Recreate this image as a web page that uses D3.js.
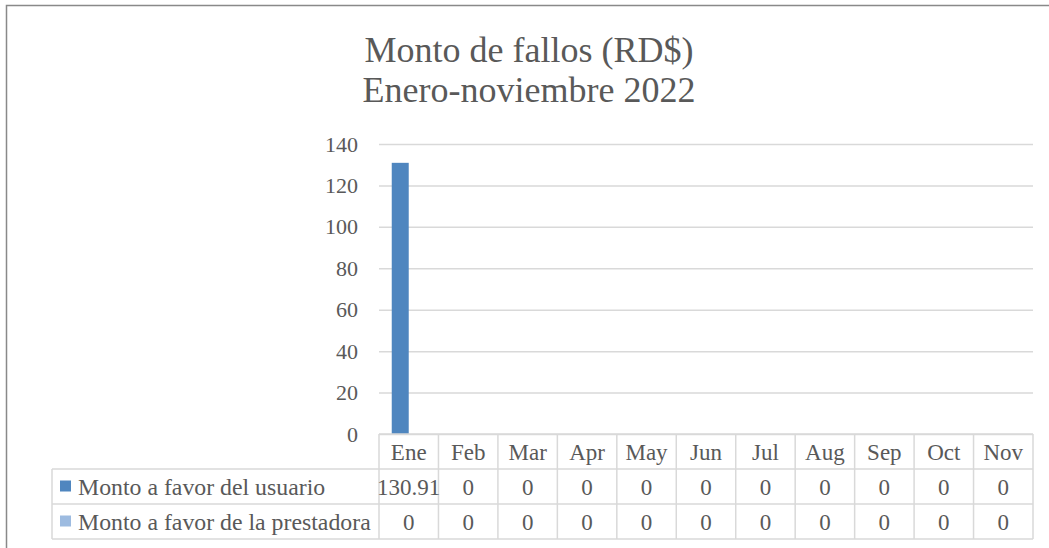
<!DOCTYPE html>
<html>
<head>
<meta charset="utf-8">
<script src="https://cdn.jsdelivr.net/npm/d3@7"></script>
<style>
  html, body { margin: 0; padding: 0; background: #fff; }
</style>
</head>
<body>
<svg id="chart"></svg>
<script>
// data
var months = ["Ene", "Feb", "Mar", "Apr", "May", "Jun", "Jul", "Aug", "Sep", "Oct", "Nov"];
var seriesNames = ["Monto a favor del usuario", "Monto a favor de la prestadora"];
var usuario = [130.91, 0, 0, 0, 0, 0, 0, 0, 0, 0, 0];
var prestadora = [0, 0, 0, 0, 0, 0, 0, 0, 0, 0, 0];
var usuarioLabels = ["130.91", "0", "0", "0", "0", "0", "0", "0", "0", "0", "0"];
var prestadoraLabels = ["0", "0", "0", "0", "0", "0", "0", "0", "0", "0", "0"];
var yTicks = [0, 20, 40, 60, 80, 100, 120, 140];
var titleLines = ["Monto de fallos (RD$)", "Enero-noviembre 2022"];

(function (d3) {

    /***** Configuration *****/
    var width = 1049, height = 548;
    var plot = { left: 379, right: 1033, top: 144, bottom: 434 };
    var rowH = 35;
    var legendLeft = 52;
    var colors = ["#4f86bf", "#9dbbe0"];
    var lineColor = "#d9d9d9";
    var font = "Liberation Serif";
    var textColor = "#595959";

    var svg = d3.select("#chart").attr("width", width).attr("height", height);

    // outer frame
    svg.append("rect")
       .attr("x", 6.5).attr("y", 5.5)
       .attr("width", width + 10).attr("height", height + 10)
       .attr("fill", "none").attr("stroke", "#898989").attr("stroke-width", 1.5);

    /***** Title *****/
    svg.append("g").selectAll("text")
       .data(titleLines)
       .join("text")
       .attr("x", 529)
       .attr("y", function (d, i) { return 62 + i * 40; })
       .attr("text-anchor", "middle")
       .attr("font-family", font)
       .attr("font-size", 36)
       .attr("fill", textColor)
       .text(function (d) { return d; });

    /***** Scales *****/
    var x = d3.scaleBand().domain(months).range([plot.left, plot.right]);
    var xs = d3.scaleBand().domain(seriesNames).range([0, x.bandwidth()]).paddingInner(0).paddingOuter(0.75);
    var y = d3.scaleLinear().domain([0, 140]).range([plot.bottom, plot.top]);

    /***** Grid + y axis *****/
    var yAxis = d3.axisLeft(y).tickValues(yTicks).tickSize(-(plot.right - plot.left)).tickPadding(21);
    var gy = svg.append("g")
                .attr("transform", "translate(" + plot.left + ",0)")
                .call(yAxis)
                .attr("font-family", font)
                .attr("font-size", 22);
    gy.select(".domain").remove();
    gy.selectAll(".tick line").attr("stroke", lineColor).attr("stroke-width", 1.5);
    gy.selectAll(".tick text").attr("fill", textColor);

    /***** Bars *****/
    var series = [usuario, prestadora];
    var gBars = svg.append("g");
    series.forEach(function (vals, si) {
        gBars.selectAll(".bar" + si)
             .data(vals)
             .join("rect")
             .attr("class", "bar" + si)
             .attr("x", function (d, i) { return x(months[i]) + xs(seriesNames[si]); })
             .attr("width", xs.bandwidth())
             .attr("y", function (d) { return y(d); })
             .attr("height", function (d) { return y(0) - y(d); })
             .attr("fill", colors[si]);
    });

    /***** Data table *****/
    var tbl = svg.append("g")
                 .attr("font-family", font)
                 .attr("font-size", 23)
                 .attr("fill", textColor);
    var top0 = plot.bottom;
    var rows = [usuarioLabels, prestadoraLabels];

    // table lines
    var lines = [];
    lines.push([plot.left, top0, plot.right, top0]);
    lines.push([legendLeft, top0 + rowH, plot.right, top0 + rowH]);
    lines.push([legendLeft, top0 + rowH * 2, plot.right, top0 + rowH * 2]);
    lines.push([legendLeft, top0 + rowH * 3, plot.right, top0 + rowH * 3]);
    lines.push([legendLeft, top0 + rowH, legendLeft, top0 + rowH * 3]);
    months.forEach(function (m) {
        lines.push([x(m), top0, x(m), top0 + rowH * 3]);
    });
    lines.push([plot.right, top0, plot.right, top0 + rowH * 3]);

    tbl.selectAll("line")
       .data(lines)
       .join("line")
       .attr("x1", function (d) { return d[0]; })
       .attr("y1", function (d) { return d[1]; })
       .attr("x2", function (d) { return d[2]; })
       .attr("y2", function (d) { return d[3]; })
       .attr("stroke", lineColor)
       .attr("stroke-width", 1.5);

    // header row
    tbl.selectAll(".hdr")
       .data(months)
       .join("text")
       .attr("class", "hdr")
       .attr("x", function (d) { return x(d) + x.bandwidth() / 2; })
       .attr("y", top0 + rowH / 2 + 8)
       .attr("text-anchor", "middle")
       .text(function (d) { return d; });

    // value rows
    rows.forEach(function (labels, ri) {
        var yMid = top0 + rowH * (ri + 1) + rowH / 2;
        tbl.selectAll(".val" + ri)
           .data(labels)
           .join("text")
           .attr("class", "val" + ri)
           .attr("x", function (d, i) { return x(months[i]) + x.bandwidth() / 2; })
           .attr("y", yMid + 8)
           .attr("text-anchor", "middle")
           .text(function (d) { return d; });

        tbl.append("rect")
           .attr("x", 60).attr("y", yMid - 6)
           .attr("width", 11).attr("height", 11)
           .attr("fill", colors[ri]);
        tbl.append("text")
           .attr("x", 78).attr("y", yMid + 8)
           .attr("font-size", 23.8)
           .text(seriesNames[ri]);
    });

})(d3);
</script>
</body>
</html>
